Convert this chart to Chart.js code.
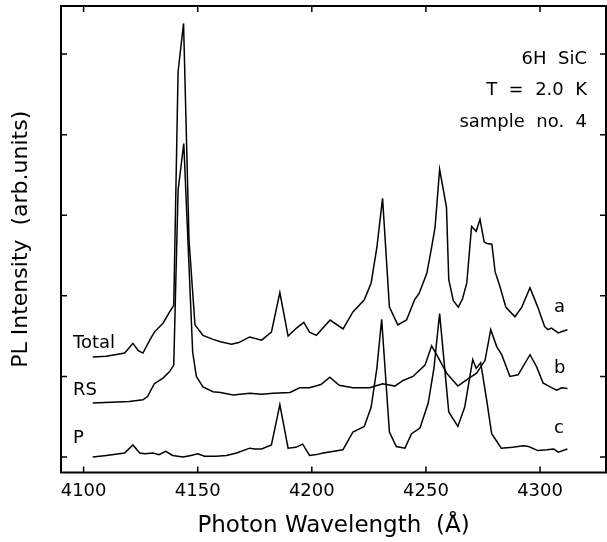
<!DOCTYPE html>
<html>
<head>
<meta charset="utf-8">
<title>PL 6H SiC</title>
<script src="https://cdn.jsdelivr.net/npm/chart.js@4.4.0/dist/chart.umd.min.js"></script>
<style>
  body { margin: 0; background: #fff; }
  canvas { display: block; }
</style>
</head>
<body>
<canvas id="plChart" width="607" height="542"></canvas>
<script>
// Espectro total (a)
const totalX = [4104, 4110, 4118, 4121.6, 4124, 4126, 4129, 4131, 4134.8, 4137.7, 4139.5, 4141.4, 4143.8, 4146.2, 4148.8,
  4152.3, 4156.7, 4160, 4164.8, 4168, 4172.8, 4178, 4182.3, 4186, 4189.6, 4193.3, 4196.5, 4199, 4202, 4208, 4213.7,
  4218, 4223, 4226, 4228.5, 4231, 4234, 4237.7, 4241.5, 4245, 4247, 4250.4, 4252.6, 4254, 4256, 4259, 4260, 4262,
  4264.2, 4266, 4267.9, 4270, 4272, 4273.7, 4275.5, 4276.7, 4278.9, 4280.3, 4282.5, 4285, 4289, 4292, 4295.6, 4299,
  4302, 4303.5, 4305, 4308, 4310, 4312];
const totalY = [1.24, 1.25, 1.29, 1.41, 1.32, 1.29, 1.45, 1.55, 1.66, 1.80, 1.88, 4.78, 5.38, 2.69, 1.64,
  1.51, 1.46, 1.43, 1.40, 1.42, 1.49, 1.45, 1.55, 2.04, 1.50, 1.60, 1.67, 1.55, 1.51, 1.70, 1.59,
  1.80, 1.95, 2.16, 2.60, 3.21, 1.86, 1.64, 1.70, 1.95, 2.03, 2.28, 2.62, 2.85, 3.57, 3.10, 2.20, 1.94,
  1.86, 1.96, 2.16, 2.86, 2.80, 2.95, 2.67, 2.65, 2.64, 2.30, 2.11, 1.86, 1.74, 1.86, 2.10, 1.86,
  1.62, 1.58, 1.60, 1.54, 1.56, 1.58];

// Espectro RS (b)
const rsX = [4104, 4112, 4120, 4126, 4128, 4131, 4134.8, 4137.7, 4139.5, 4141.4, 4143.9, 4147.8, 4149.4, 4152.3,
  4156.7, 4160, 4165.5, 4172.8, 4178, 4183, 4190.4, 4194.7, 4199, 4204, 4207.9, 4212, 4218, 4225.4, 4231,
  4236.4, 4240, 4244.3, 4249.6, 4252.5, 4255.3, 4259.1, 4264, 4267.9, 4272.2, 4275.9, 4278.4, 4281, 4283.2,
  4286.8, 4290.4, 4295.6, 4298.5, 4301.3, 4304.4, 4307.3, 4309.5, 4312];
const rsY = [0.67, 0.68, 0.69, 0.71, 0.75, 0.91, 0.98, 1.06, 1.14, 3.31, 3.89, 1.30, 1.00, 0.87,
  0.81, 0.80, 0.77, 0.79, 0.78, 0.79, 0.80, 0.86, 0.86, 0.90, 0.99, 0.89, 0.86, 0.86, 0.91,
  0.88, 0.95, 1.00, 1.14, 1.38, 1.24, 1.04, 0.88, 0.96, 1.04, 1.20, 1.58, 1.37, 1.27,
  1.00, 1.02, 1.27, 1.12, 0.92, 0.87, 0.83, 0.86, 0.85];

// Espectro P (c)
const pX = [4104, 4110, 4118, 4121.6, 4124.6, 4127, 4130.4, 4133, 4136, 4139, 4143.6, 4147, 4150, 4153, 4158,
  4162.6, 4167, 4172.8, 4175, 4178, 4182.3, 4186, 4189.6, 4193, 4196, 4199, 4202, 4205, 4213.6, 4218, 4223,
  4226, 4228.5, 4230.6, 4234, 4237, 4240.8, 4243.7, 4247.4, 4251, 4253.5, 4256, 4260, 4264, 4267, 4270.5,
  4272, 4274, 4276.6, 4278.8, 4283, 4288, 4292.7, 4295, 4299, 4303, 4306, 4308, 4312];
const pY = [0.00, 0.02, 0.05, 0.15, 0.05, 0.04, 0.05, 0.03, 0.07, 0.02, 0.00, 0.02, 0.04, 0.01, 0.01,
  0.02, 0.05, 0.11, 0.10, 0.10, 0.15, 0.65, 0.11, 0.12, 0.16, 0.02, 0.03, 0.05, 0.09, 0.31, 0.38,
  0.62, 1.10, 1.71, 0.31, 0.13, 0.11, 0.29, 0.36, 0.67, 1.10, 1.78, 0.56, 0.38, 0.62, 1.21,
  1.10, 1.17, 0.71, 0.29, 0.11, 0.12, 0.14, 0.13, 0.08, 0.09, 0.10, 0.06, 0.10];

const xTicks = [4100, 4150, 4200, 4250, 4300];
const yTicks = [0, 1, 2, 3, 4, 5];
const curveNames = ['Total', 'RS', 'P'];
const curveTags = ['a', 'b', 'c'];
const infoLines = ['6H  SiC', 'T  =  2.0  K', 'sample  no.  4'];

const FONT = "'DejaVu Sans', sans-serif";

// juntar x e y en puntos
function toPoints(xs, ys) {
  return xs.map((x, i) => ({ x: x, y: ys[i] }));
}

function lineSet(label, xs, ys) {
  return {
    label: label,
    data: toPoints(xs, ys),
    borderColor: '#000',
    borderWidth: 1.5,
    pointRadius: 0,
    tension: 0,
    fill: false
  };
}

// marco, ticks hacia dentro y textos
const framePlugin = {
  id: 'frame',
  afterDraw(chart) {
    const { ctx, chartArea: a, scales } = chart;
    ctx.save();
    ctx.strokeStyle = '#000';
    ctx.lineWidth = 2;
    ctx.strokeRect(a.left, a.top, a.right - a.left, a.bottom - a.top);

    ctx.lineWidth = 1.5;
    ctx.beginPath();
    xTicks.forEach(v => {
      const px = scales.x.getPixelForValue(v);
      ctx.moveTo(px, a.bottom); ctx.lineTo(px, a.bottom - 6);
      ctx.moveTo(px, a.top); ctx.lineTo(px, a.top + 6);
    });
    yTicks.forEach(v => {
      const py = scales.y.getPixelForValue(v);
      ctx.moveTo(a.left, py); ctx.lineTo(a.left + 6, py);
      ctx.moveTo(a.right, py); ctx.lineTo(a.right - 6, py);
    });
    ctx.stroke();

    ctx.fillStyle = '#000';
    ctx.font = '18px ' + FONT;
    ctx.textBaseline = 'alphabetic';

    // nombres a la izquierda
    ctx.textAlign = 'left';
    const nameBase = [348, 395, 443];
    curveNames.forEach((t, i) => ctx.fillText(t, 73, nameBase[i]));

    // letras a la derecha
    const tagBase = [312, 373, 433];
    curveTags.forEach((t, i) => ctx.fillText(t, 554, tagBase[i]));

    // info de la muestra
    ctx.textAlign = 'right';
    const infoBase = [64, 95, 127];
    infoLines.forEach((t, i) => ctx.fillText(t, 587, infoBase[i]));
    ctx.restore();
  }
};

new Chart(document.getElementById('plChart'), {
  type: 'line',
  data: {
    datasets: [
      lineSet('Total', totalX, totalY),
      lineSet('RS', rsX, rsY),
      lineSet('P', pX, pY)
    ]
  },
  options: {
    responsive: false,
    animation: false,
    events: [],
    layout: { padding: { top: 6, right: 1, left: 0, bottom: 0 } },
    plugins: {
      legend: { display: false },
      tooltip: { enabled: false }
    },
    scales: {
      x: {
        type: 'linear',
        min: 4090.1,
        max: 4328.9,
        afterBuildTicks: scale => { scale.ticks = xTicks.map(v => ({ value: v })); },
        afterFit: scale => { scale.height = 69.5; },
        grid: { display: false, drawTicks: false },
        border: { display: false },
        ticks: {
          color: '#000',
          padding: 8,
          maxRotation: 0,
          font: { family: FONT, size: 18 },
          callback: v => String(v)
        },
        title: {
          display: true,
          text: 'Photon Wavelength  (Å)',
          color: '#000',
          font: { family: FONT, size: 23 },
          padding: { top: 0, bottom: 2 }
        }
      },
      y: {
        type: 'linear',
        min: -0.192,
        max: 5.596,
        afterFit: scale => { scale.width = 61; },
        grid: { display: false, drawTicks: false },
        border: { display: false },
        ticks: { display: false },
        title: {
          display: true,
          text: 'PL Intensity  (arb.units)',
          color: '#000',
          font: { family: FONT, size: 22 },
          padding: { top: 8, bottom: 0 }
        }
      }
    }
  },
  plugins: [framePlugin]
});
</script>
</body>
</html>
